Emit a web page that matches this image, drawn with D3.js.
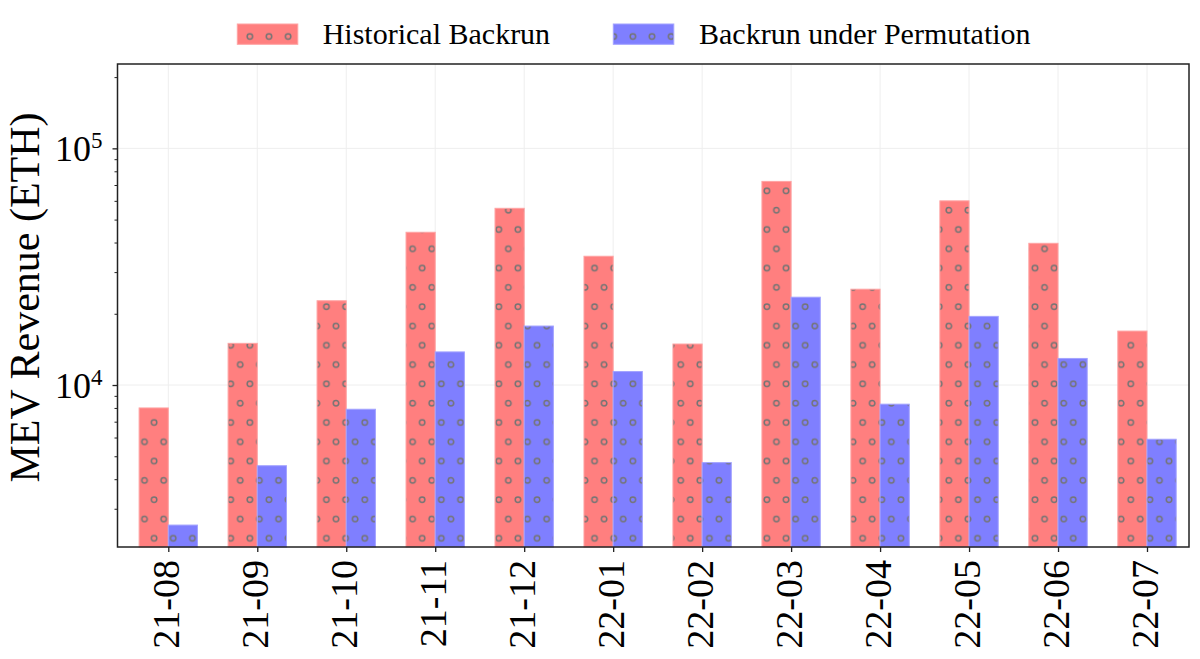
<!DOCTYPE html>
<html>
<head>
<meta charset="utf-8">
<script src="https://cdn.jsdelivr.net/npm/d3@7"></script>
<style>
  html, body { margin: 0; padding: 0; background: #fff; }
  svg, svg text { font-family: "Liberation Serif", "Times New Roman", serif; }
</style>
</head>
<body>
<svg id="chart" width="1200" height="659"></svg>
<script>
// ---- data ----
const months = ["21-08","21-09","21-10","21-11","21-12","22-01","22-02","22-03","22-04","22-05","22-06","22-07"];
const historical = [8000, 15000, 22700, 44200, 55800, 35000, 14900, 72500, 25400, 60000, 39700, 16900];
const permutation = [2560, 4560, 7900, 13800, 17750, 11400, 4700, 23500, 8300, 19500, 12950, 5900];
const seriesNames = ["Historical Backrun", "Backrun under Permutation"];
const yTickValues = [1e4, 1e5];

// ---- layout ----
const plot = { left: 117.5, right: 1189, top: 64, bottom: 547 };
const colors = ["#ff7f7f", "#7f7fff"];
const edgeColors = ["#ffa3a3", "#a3a3ff"];
const serif = '"Liberation Serif", "Times New Roman", serif';

const svg = d3.select("#chart");

// hatch pattern (dots), anchored in page space
const defs = svg.append("defs");
const pw = 19.15, ph = 38.6;
colors.forEach((c, k) => {
  const p = defs.append("pattern")
    .attr("id", "dots" + k)
    .attr("patternUnits", "userSpaceOnUse")
    .attr("width", pw).attr("height", ph)
    .attr("x", 230.7 - pw / 2).attr("y", 345.3 - ph / 4);
  p.append("rect").attr("width", pw).attr("height", ph).attr("fill", c);
  [[pw / 2, ph / 4], [0, 3 * ph / 4], [pw, 3 * ph / 4]].forEach(([cx, cy]) => {
    p.append("circle").attr("cx", cx).attr("cy", cy).attr("r", 2.7)
      .attr("fill", "none").attr("stroke", "#747474").attr("stroke-width", 1.5);
  });
});

// scales
const x = d3.scaleLinear().domain([0, months.length - 1]).range([168.3, 1147]);
const step = x(1) - x(0);
const barW = step * 0.328;
const y = d3.scaleLog().domain([2068, 227200]).range([plot.bottom, plot.top]);

// gridlines
const grid = svg.append("g");
grid.selectAll("line.v").data(months).join("line")
  .attr("x1", (d, i) => x(i)).attr("x2", (d, i) => x(i))
  .attr("y1", plot.top).attr("y2", plot.bottom)
  .attr("stroke", "#eeeeee").attr("stroke-width", 1);
grid.selectAll("line.h").data(yTickValues).join("line")
  .attr("x1", plot.left).attr("x2", plot.right)
  .attr("y1", d => y(d)).attr("y2", d => y(d))
  .attr("stroke", "#eeeeee").attr("stroke-width", 1);

// bars
const seriesData = [historical, permutation];
seriesData.forEach((vals, k) => {
  svg.append("g").selectAll("rect").data(vals).join("rect")
    .attr("x", (d, i) => x(i) + (k === 0 ? -barW : 0))
    .attr("width", barW)
    .attr("y", d => y(d))
    .attr("height", d => plot.bottom - y(d))
    .attr("fill", "url(#dots" + k + ")")
    .attr("stroke", edgeColors[k]).attr("stroke-width", 1);
});

// frame
svg.append("rect")
  .attr("x", plot.left).attr("y", plot.top)
  .attr("width", plot.right - plot.left).attr("height", plot.bottom - plot.top)
  .attr("fill", "none").attr("stroke", "#222").attr("stroke-width", 1.5);

// x axis
const xAxis = d3.axisBottom(x)
  .tickValues(d3.range(months.length))
  .tickFormat(i => months[i])
  .tickSize(5).tickPadding(0);
const gx = svg.append("g").attr("transform", `translate(0,${plot.bottom})`).call(xAxis);
gx.attr("font-family", null).style("font-family", serif);
gx.select(".domain").remove();
gx.selectAll(".tick line").attr("stroke", "#222").attr("stroke-width", 1.3);
gx.selectAll(".tick text")
  .attr("font-size", 38).attr("fill", "#000")
  .style("font-family", serif)
  .attr("transform", "translate(10,13) rotate(-90)")
  .attr("text-anchor", "end").attr("x", 0).attr("y", 0).attr("dy", 0);

// y axis (log) major + minor ticks
const minorTicks = y.ticks().filter(v => yTickValues.indexOf(v) < 0);
const yAxisMinor = d3.axisLeft(y).tickValues(minorTicks).tickSize(3).tickFormat("");
const gym = svg.append("g").attr("transform", `translate(${plot.left},0)`).call(yAxisMinor);
gym.select(".domain").remove();
gym.selectAll(".tick line").attr("stroke", "#222").attr("stroke-width", 1);

const yAxis = d3.axisLeft(y).tickValues(yTickValues).tickSize(5).tickFormat("");
const gy = svg.append("g").attr("transform", `translate(${plot.left},0)`).call(yAxis);
gy.attr("font-family", null).style("font-family", serif);
gy.select(".domain").remove();
gy.selectAll(".tick line").attr("stroke", "#222").attr("stroke-width", 1.3);
gy.selectAll(".tick").each(function (d) {
  const t = d3.select(this).append("text")
    .attr("x", -15).attr("y", 12.5)
    .attr("text-anchor", "end").attr("fill", "#000")
    .style("font-family", serif)
    .attr("font-size", 36);
  t.append("tspan").text("10");
  t.append("tspan").attr("dy", -13).attr("font-size", 23).text(Math.round(Math.log10(d)));
});

// y label
svg.append("text")
  .attr("transform", `translate(39,${(plot.top + plot.bottom) / 2 - 8}) rotate(-90)`)
  .attr("text-anchor", "middle").attr("font-size", 42).attr("fill", "#000")
  .style("font-family", serif)
  .text("MEV Revenue (ETH)");

// legend
const legendItems = [
  { x: 237.3, tx: 322.7 },
  { x: 613.3, tx: 699 }
];
legendItems.forEach((it, k) => {
  svg.append("rect").attr("x", it.x).attr("y", 24).attr("width", 60.5).attr("height", 20.3)
    .attr("fill", "url(#dots" + k + ")").attr("stroke", edgeColors[k]).attr("stroke-width", 1);
  svg.append("text").attr("x", it.tx).attr("y", 44.3).attr("font-size", 30).attr("fill", "#000")
    .style("font-family", serif)
    .text(seriesNames[k]);
});
</script>
</body>
</html>
